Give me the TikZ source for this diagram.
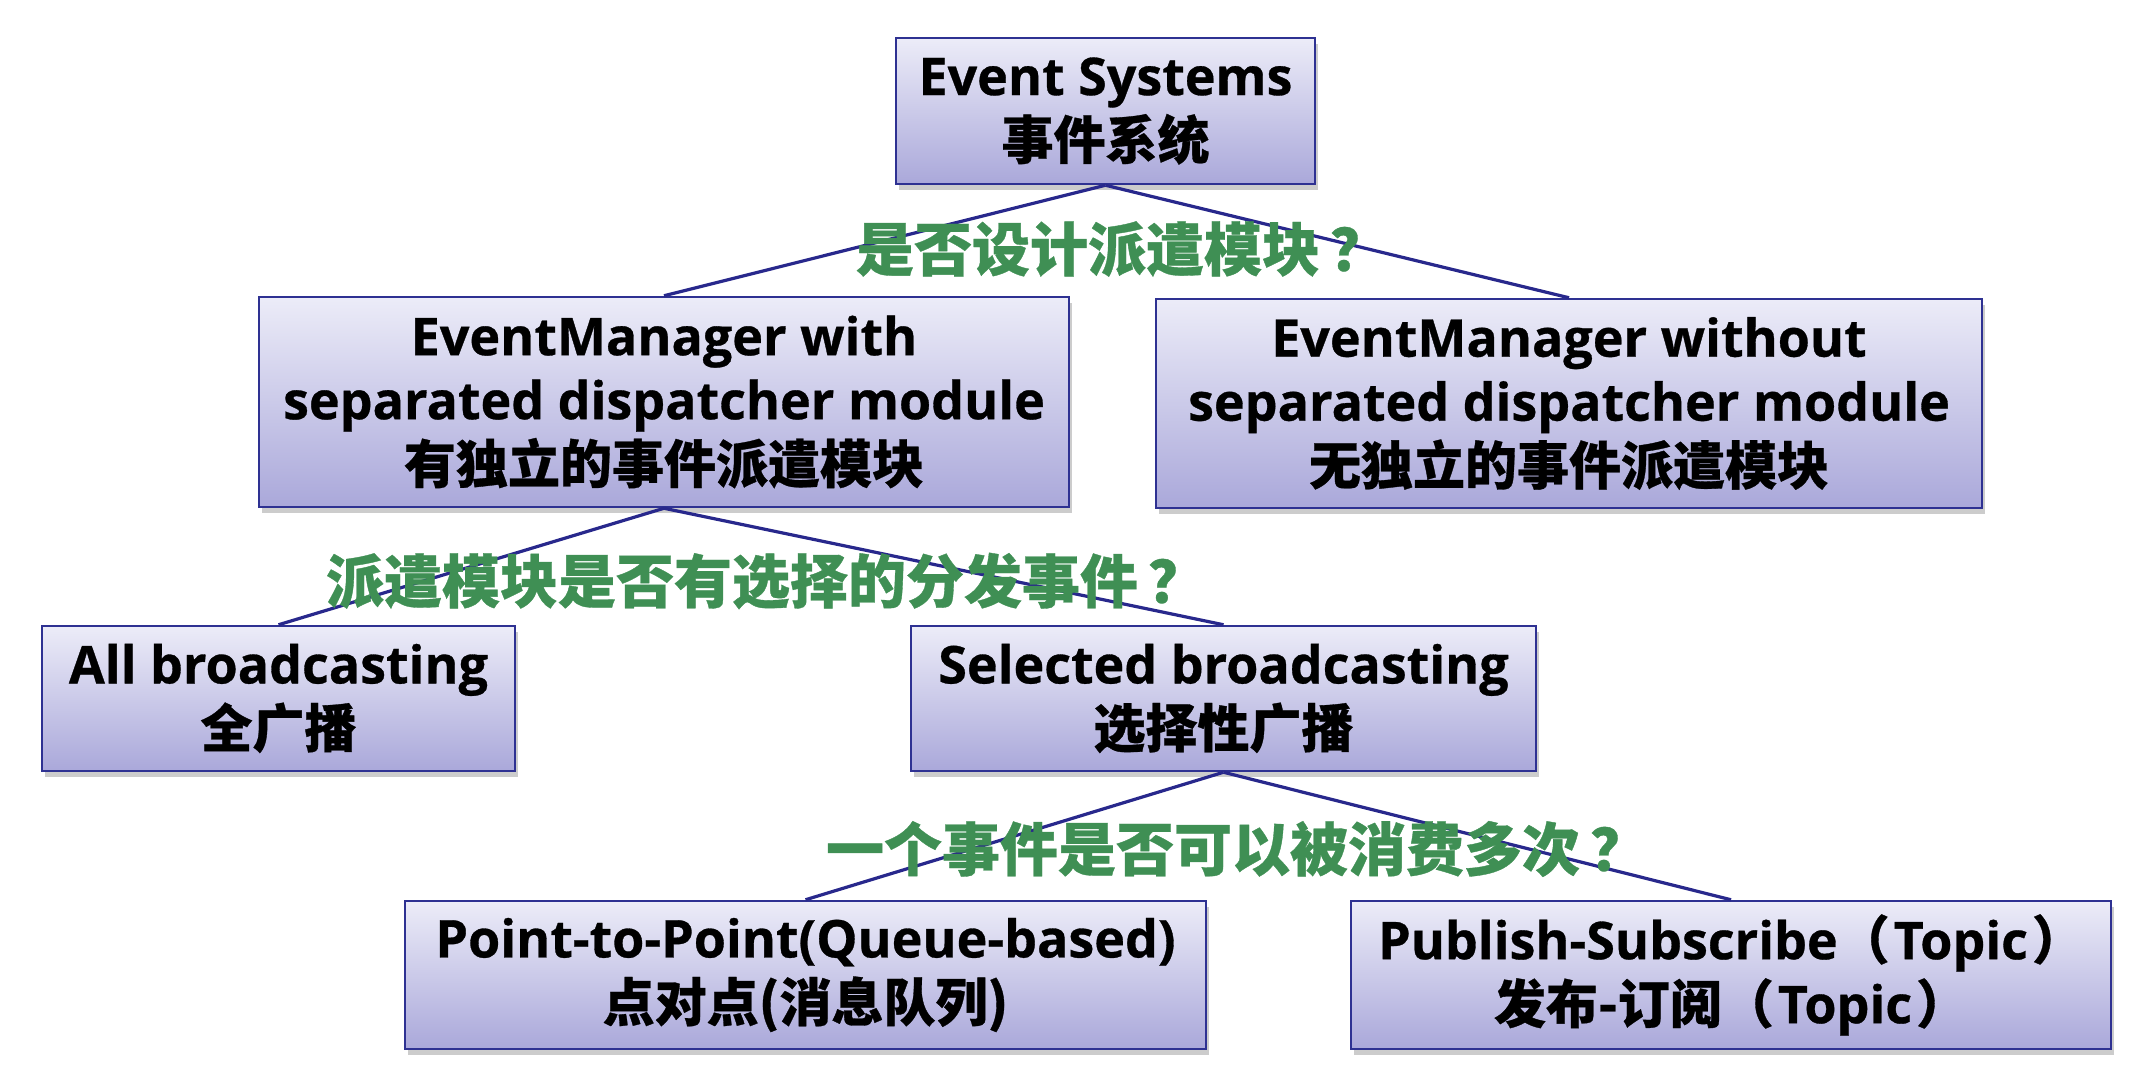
\documentclass[tikz,border=0pt]{standalone}
\usepackage{fontspec}
\setmainfont{Open Sans}[BoldFeatures={FakeBold=0.6}]
\newfontfamily\cjk{Noto Sans CJK SC}[BoldFeatures={FakeBold=0.6}]
\usetikzlibrary{shadows}
\definecolor{boxline}{RGB}{46,49,146}
\definecolor{boxtop}{RGB}{236,236,248}
\definecolor{boxbot}{RGB}{170,168,218}
\definecolor{qgreen}{RGB}{63,143,84}
\definecolor{linkc}{RGB}{40,40,140}
\newcommand\zh[1]{{\cjk\bfseries #1}}
\newcommand\qm{\kern10pt？}
\newcommand\lpar{\zh{（}\kern4pt}
\newcommand\rpar{\kern4pt\zh{）}}
\begin{document}
\begin{tikzpicture}[x=1pt,y=-1pt,
  nbox/.style={rectangle, draw=boxline, line width=2.5pt, top color=boxtop, bottom color=boxbot,
    inner sep=0pt, align=center, font=\fontsize{52}{64}\selectfont\bfseries,
    general shadow={fill=black, opacity=0.2, shadow xshift=3pt, shadow yshift=-6pt}},
  link/.style={draw=linkc, line width=3.2pt},
  question/.style={text=qgreen, font=\fontsize{58}{62}\selectfont\cjk\bfseries, inner sep=0pt}]
\useasboundingbox (0,0) rectangle (2148,1090);
% node coordinates
\coordinate (c-es) at (1105.5,111);
\coordinate (c-emw) at (664,402);
\coordinate (c-emwo) at (1569,403.5);
\coordinate (c-allb) at (278.5,698.5);
\coordinate (c-selb) at (1223.5,698.5);
\coordinate (c-p2p) at (805.5,975);
\coordinate (c-pub) at (1731,975);
% boxes
\node[nbox, minimum width=419pt, minimum height=146pt] (es) at (c-es) {Event Systems\\\zh{事件系统}};
\node[nbox, minimum width=810pt, minimum height=210pt] (emw) at (c-emw) {EventManager with\\separated dispatcher module\\\zh{有独立的事件派遣模块}};
\node[nbox, minimum width=826pt, minimum height=209pt] (emwo) at (c-emwo) {EventManager without\\separated dispatcher module\\\zh{无独立的事件派遣模块}};
\node[nbox, minimum width=473pt, minimum height=145pt] (allb) at (c-allb) {All broadcasting\\\zh{全广播}};
\node[nbox, minimum width=625pt, minimum height=145pt] (selb) at (c-selb) {Selected broadcasting\\\zh{选择性广播}};
\node[nbox, minimum width=801pt, minimum height=148pt] (p2p) at (c-p2p) {Point-to-Point(Queue-based)\\\zh{点对点(消息队列)}};
\node[nbox, minimum width=760pt, minimum height=148pt] (pub) at (c-pub) {Publish-Subscribe\lpar Topic\rpar\\\zh{发布-订阅}\lpar Topic\rpar};
% connectors
\draw[link] (es.south) -- (emw.north);
\draw[link] (es.south) -- (emwo.north);
\draw[link] (emw.south) -- (allb.north);
\draw[link] (emw.south) -- (selb.north);
\draw[link] (selb.south) -- (p2p.north);
\draw[link] (selb.south) -- (pub.north);
% questions
\node[question] (q1) at (1122,249) {是否设计派遣模块\qm};
\node[question] (q2) at (766,581) {派遣模块是否有选择的分发事件\qm};
\node[question] (q3) at (1237,849) {一个事件是否可以被消费多次\qm};
\end{tikzpicture}
\end{document}
